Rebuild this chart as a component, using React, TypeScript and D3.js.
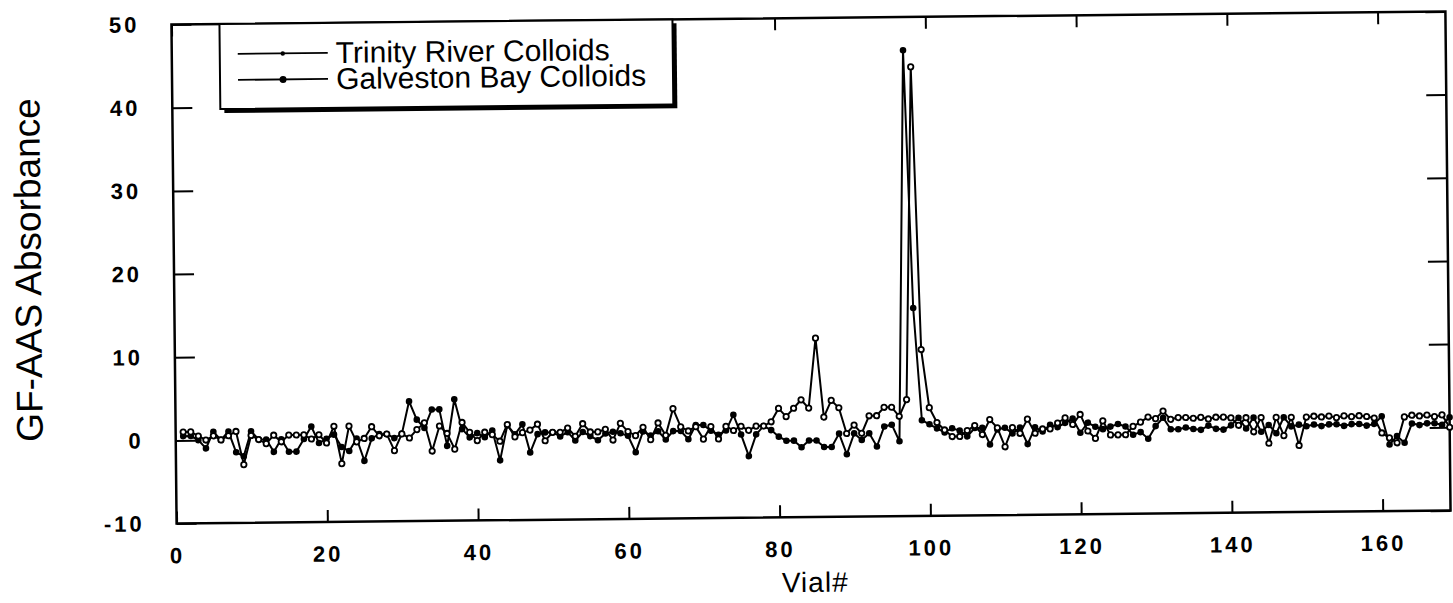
import React, { useEffect, useRef } from 'react';
import * as d3 from 'd3';

// vial numbers 1..169
const vials = d3.range(1, 170);

const trinity = [
  1, 1, 0.5, 0, 0.5, 0, 0.5, 1, -3, 0.5,
  0, -0.5, 0.5, -0.3, 0.5, 0.5, 0.5, 0, 0.5, -0.5,
  1.5, -3, 1.5, -0.4, 0, 1.4, 0.3, 0.5, -1.5, 0.5,
  0, 1, 1.8, -1.6, 1.4, 0.5, -1.4, 1.8, 0.6, -0.4,
  0.6, 0.3, -0.5, 1.5, 0, 0.5, 0.8, 1.5, -0.5, 0.5,
  0.5, 1, 0, 1.5, 0.5, 0.5, 0.8, -0.5, 1.5, 0.5,
  0, 1, -0.5, 1.5, 0, 3.2, 1, 0.5, 1, -0.5,
  1, -0.5, 1, 0.5, 1, 0.5, 1, 1, 1.5, 3.1,
  2.1, 3.1, 4.1, 3.1, 11.5, 2, 4, 3.1, 0, 1,
  0, 2.1, 2.1, 3.1, 3.1, 2, 4, 44, 10, 3,
  1.2, 0.3, -0.5, -0.5, 0.2, 0.8, -0.3, 1.5, 0.5, -1.8,
  0.5, -0.2, 1.5, -0.2, 0.3, 0.3, 1, 1.6, 0.8, 2,
  0, -0.9, 1.2, -0.5, -0.5, -0.5, 0.5, 1, 1.6, 1.4,
  2.3, 1.3, 1.5, 1.5, 1.4, 1.5, 1.3, 1.5, 1.5, 1.4,
  0.5, 1.4, -0.3, 1.4, -1.7, 1.4, -0.8, 1.4, -2, 1.4,
  1.5, 1.4, 1.5, 1.3, 1.5, 1.4, 1.5, 1.4, 1.2, -0.6,
  -1.2, -1.8, 1.3, 1.5, 1.4, 1.5, 1.3, 1.5, 0
];

const galveston = [
  0.5, 0.5, 0, -1, 1, 0, 1, -1.5, -2, 1,
  0, 0, -1.5, 0, -1.5, -1.5, 0, 1.5, -0.5, 0,
  0.5, -1, -1.5, 0, -2.7, 0, 0.5, 0.5, 0, 0.5,
  4.4, 2.2, 1.2, 3.4, 3.4, -1, 4.6, 1, 0, 0.5,
  0, 0.8, -2.8, 1.4, 0.3, 1.5, -1.9, 0.3, 0.5, 0.5,
  0, 0.5, -0.5, 0.5, 0, -0.5, 0.3, 0.5, 0.3, 0,
  -2, 0.5, 0, 0.5, -0.5, 0.5, 0.5, -0.5, 1.2, 1.2,
  0.5, 0, 0.5, 2.4, 0, -2.6, 0, 1, 0.5, -0.3,
  -0.8, -0.8, -1.6, -0.8, -0.8, -1.6, -1.6, 0, -2.5, 0,
  -0.8, 0, -1.6, 0.8, 1, -1, 46, 15, 1.5, 1,
  0.5, 0, 0.5, 0.2, -0.5, 0.5, 0.5, -1.5, 0.3, 0.5,
  -0.2, 0.5, -1.5, 0.5, 0, 0.8, 0.5, 1, 1.5, -0.2,
  1, 0.5, 0.2, 0.5, 0.8, 0.5, -0.5, -0.2, -1, 0.5,
  1.5, 0.1, 0.1, 0.3, 0.1, 0, 0.5, 0.1, 0, 0.5,
  1.4, 0.1, 1.4, -0.3, 0.5, -0.5, 1.4, 0.3, 0.5, 0.3,
  0.5, 0.3, 0.5, 0.5, 0.3, 0.5, 0.5, 0.3, 0.5, 1.4,
  -2, -1, -1.8, 0.5, 0.3, 0.5, 0.5, 0.3, 1.2
];

const xTicks = [0, 20, 40, 60, 80, 100, 120, 140, 160];
const yTicks = [-10, 0, 10, 20, 30, 40, 50];
const seriesNames = ['Trinity River Colloids', 'Galveston Bay Colloids'];

const FONT = '"Liberation Sans", Arial, Helvetica, sans-serif';

const App = () => {
  const svg = useRef(null);
  const width = 1453;
  const height = 603;
  const margin = { top: 18, right: 5, bottom: 86, left: 174 };

  const renderChart = (svg: any) => {
    svg.selectAll('*').remove();

    const x = d3.scaleLinear().domain([0, 169]).range([margin.left, width - margin.right]);
    const y = d3.scaleLinear().domain([-10, 50]).range([height - margin.bottom, margin.top]);

    // the scanned page sits slightly tilted
    const root = svg.append('g').attr('transform', 'rotate(-0.59 811 268)');

    const x0 = x.range()[0], x1 = x.range()[1];
    const y0 = y.range()[0], y1 = y.range()[1];

    // axes (ticks point inward, frame drawn separately)
    root.append('g')
      .attr('transform', `translate(0, ${y0})`)
      .call(d3.axisBottom(x).tickValues(xTicks).tickSizeInner(-12).tickSizeOuter(0).tickPadding(24).tickFormat((d: any) => String(d)));
    root.append('g')
      .attr('transform', `translate(${x0}, 0)`)
      .call(d3.axisLeft(y).tickValues(yTicks).tickSizeInner(-20).tickSizeOuter(0).tickPadding(32).tickFormat((d: any) => String(d)));
    root.append('g')
      .attr('transform', `translate(0, ${y1})`)
      .call(d3.axisTop(x).tickValues(xTicks).tickSizeInner(-12).tickSizeOuter(0).tickFormat(() => ''));
    root.append('g')
      .attr('transform', `translate(${x1}, 0)`)
      .call(d3.axisRight(y).tickValues(yTicks).tickSizeInner(-20).tickSizeOuter(0).tickFormat(() => ''));

    root.selectAll('.domain').remove();
    root.selectAll('.tick line').attr('stroke', '#000').attr('stroke-width', 2);
    root.selectAll('.tick text')
      .attr('fill', '#000')
      .style('font-family', FONT)
      .style('font-size', '22px')
      .style('font-weight', 'bold')
      .style('letter-spacing', '3px');

    // frame
    root.append('rect')
      .attr('x', x0).attr('y', y1)
      .attr('width', x1 - x0).attr('height', y0 - y1)
      .attr('fill', 'none').attr('stroke', '#000').attr('stroke-width', 2.5);

    // series
    const plot = root.append('g');
    const line = d3.line<number>()
      .x((_, i) => x(vials[i]))
      .y((d) => y(d));

    plot.append('path').datum(trinity)
      .attr('d', line).attr('fill', 'none').attr('stroke', '#000').attr('stroke-width', 2);
    plot.append('path').datum(galveston)
      .attr('d', line).attr('fill', 'none').attr('stroke', '#000').attr('stroke-width', 2);

    plot.selectAll('.gmark').data(galveston).enter().append('circle')
      .attr('class', 'gmark')
      .attr('cx', (_: any, i: number) => x(vials[i]))
      .attr('cy', (d: number) => y(d))
      .attr('r', 3.3).attr('fill', '#000');
    plot.selectAll('.tmark').data(trinity).enter().append('circle')
      .attr('class', 'tmark')
      .attr('cx', (_: any, i: number) => x(vials[i]))
      .attr('cy', (d: number) => y(d))
      .attr('r', 2.7).attr('fill', '#fff').attr('stroke', '#000').attr('stroke-width', 1.8);

    // legend
    const lg = root.append('g');
    lg.append('rect').attr('x', 226).attr('y', 22).attr('width', 453).attr('height', 85).attr('fill', '#000');
    lg.append('rect').attr('x', 222).attr('y', y1).attr('width', 453).attr('height', 85)
      .attr('fill', '#fff').attr('stroke', '#000').attr('stroke-width', 2);
    const rows = [48, 74];
    seriesNames.forEach((name, i) => {
      lg.append('line').attr('x1', 240).attr('x2', 330).attr('y1', rows[i]).attr('y2', rows[i])
        .attr('stroke', '#000').attr('stroke-width', 1.8);
      lg.append('circle').attr('cx', 285).attr('cy', rows[i]).attr('r', i === 0 ? 2.2 : 3.5).attr('fill', '#000');
      lg.append('text').attr('x', 338).attr('y', rows[i] + 10)
        .attr('fill', '#000')
        .style('font-family', FONT).style('font-size', '30px')
        .text(name);
    });

    // axis titles
    root.append('text')
      .attr('x', 812).attr('y', 592)
      .attr('text-anchor', 'middle')
      .attr('fill', '#000')
      .style('font-family', FONT).style('font-size', '28px').style('letter-spacing', '1px')
      .text('Vial#');
    root.append('text')
      .attr('transform', 'translate(41, 262) rotate(-90)')
      .attr('text-anchor', 'middle')
      .attr('fill', '#000')
      .style('font-family', FONT).style('font-size', '37px')
      .text('GF-AAS Absorbance');
  };

  useEffect(() => {
    renderChart(d3.select(svg.current));
  }, []);

  return (
    <svg
      ref={svg}
      width={width}
      height={height}
      style={{ position: 'absolute', left: 0, top: 0, background: '#fff' }}
    />
  );
};

export default App;
